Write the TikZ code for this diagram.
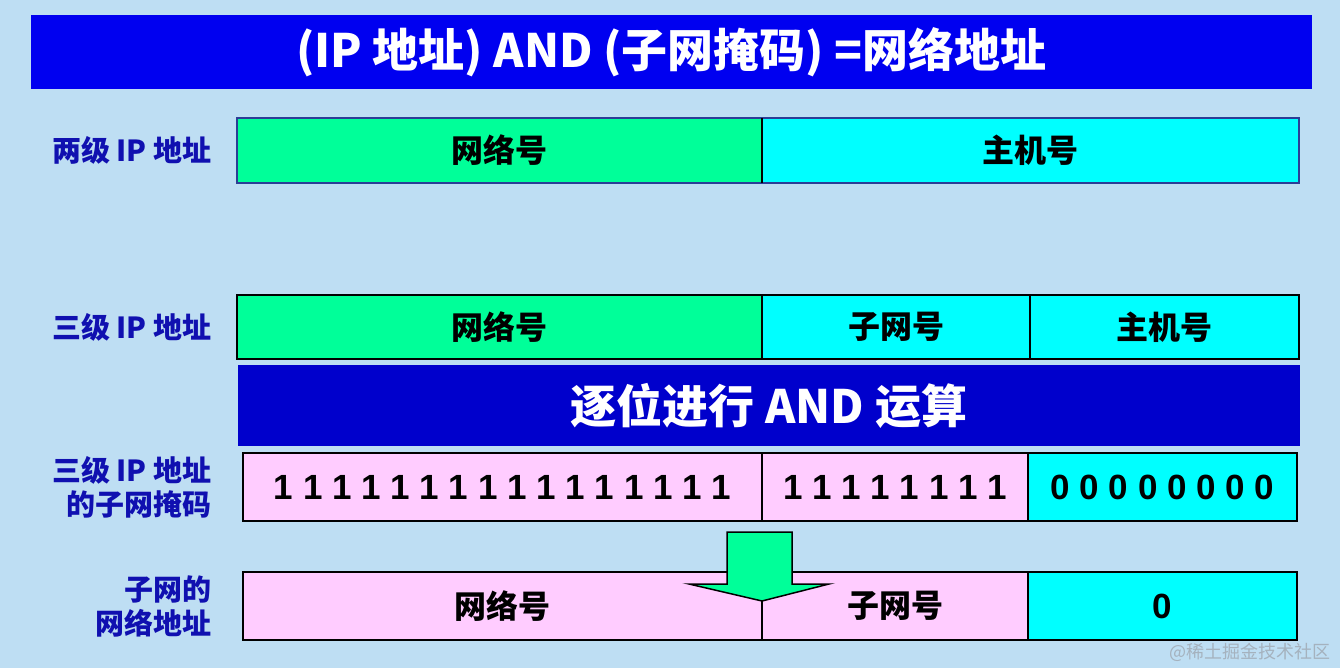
\documentclass[tikz,border=0pt]{standalone}
\usepackage{fontspec}
\setmainfont{Noto Sans CJK SC}
\newfontfamily\digitfont{Liberation Sans}
\usetikzlibrary{positioning}
\definecolor{bgblue}{RGB}{190,222,243}
\definecolor{titleblue}{RGB}{0,0,240}
\definecolor{andblue}{RGB}{0,0,204}
\definecolor{netgreen}{RGB}{0,255,153}
\definecolor{hostcyan}{RGB}{0,255,255}
\definecolor{maskpink}{RGB}{255,204,255}
\definecolor{labelblue}{RGB}{16,16,176}
\definecolor{rowedge}{RGB}{44,62,150}
\definecolor{markgray}{RGB}{165,178,190}
\newcommand\bitsfont{\fontsize{35}{40}\digitfont\bfseries}
\tikzset{
	field/.style={draw=black, line width=1.8pt, inner sep=0pt, outer sep=0pt,
		text=black, font=\fontsize{32}{36}\selectfont\bfseries},
	banner/.style={inner sep=0pt, outer sep=0pt, text=white,
		font=\fontsize{46}{50}\selectfont\bfseries},
	rowlabel/.style={align=right, text=labelblue,
		font=\fontsize{29}{34}\selectfont\bfseries}
}

\begin{document}
\begin{tikzpicture}[x=1pt,y=-1pt]

% background
\fill[bgblue] (0,0) rectangle (1340,668);
\useasboundingbox (0,0) rectangle (1340,668);

% title
\node[banner, fill=titleblue, minimum width=1281pt, minimum height=74pt] (title) at (671.5,52) {(IP 地址) AND (子网掩码) =网络地址};

% two-level address
\node[field, draw=rowedge, fill=netgreen, minimum width=525pt, minimum height=65pt] (net2) at (499.5,150.5) {网络号};
\node[field, draw=rowedge, fill=hostcyan, minimum width=537pt, minimum height=65pt, right=0pt of net2] (host2) {主机号};
\draw[line width=1.8pt] (net2.north east) -- (net2.south east);
\node[rowlabel, left=22pt of net2] (lab2) {两级 IP 地址};

% three-level address
\node[field, fill=netgreen, minimum width=525pt, minimum height=64pt] (net3) at (499.5,327) {网络号};
\node[field, fill=hostcyan, minimum width=268pt, minimum height=64pt, right=0pt of net3] (sub3) {子网号};
\node[field, fill=hostcyan, minimum width=269pt, minimum height=64pt, right=0pt of sub3] (host3) {主机号};
\node[rowlabel, left=22pt of net3] (lab3) {三级 IP 地址};

% bitwise AND
\node[banner, fill=andblue, minimum width=1062pt, minimum height=81pt] (andop) at (769,405.5) {逐位进行 AND 运算};

% subnet mask
\node[field, fill=maskpink, font=\bitsfont, minimum width=519pt, minimum height=68pt] (mask1) at (502.5,487) {1 1 1 1 1 1 1 1 1 1 1 1 1 1 1 1};
\node[field, fill=maskpink, font=\bitsfont, minimum width=266pt, minimum height=68pt, right=0pt of mask1] (mask2) {1 1 1 1 1 1 1 1};
\node[field, fill=hostcyan, font=\bitsfont, minimum width=269pt, minimum height=68pt, right=0pt of mask2] (mask3) {0 0 0 0 0 0 0 0};
\node[rowlabel, left=28pt of mask1] (labmask) {三级 IP 地址\\的子网掩码};

% subnet network address
\node[field, fill=maskpink, minimum width=519pt, minimum height=68pt] (subnet1) at (502.5,606) {网络号};
\node[field, fill=maskpink, minimum width=266pt, minimum height=68pt, right=0pt of subnet1] (subnet2) {子网号};
\node[field, fill=hostcyan, font=\bitsfont, minimum width=269pt, minimum height=68pt, right=0pt of subnet2] (subnet3) {0};
\node[rowlabel, left=28pt of subnet1] (labsub) {子网的\\网络地址};

% result arrow
\draw[line width=1.5pt, fill=netgreen, line join=miter]
	(727,532) -- (792,532) -- (792,584) -- (829,584) -- (762,601)
	-- (689,584) -- (727,584) -- cycle;

% watermark
\node[anchor=east, text=markgray, font=\fontsize{18}{20}\selectfont] (watermark) at (1334,652) {@稀土掘金技术社区};

\end{tikzpicture}
\end{document}
